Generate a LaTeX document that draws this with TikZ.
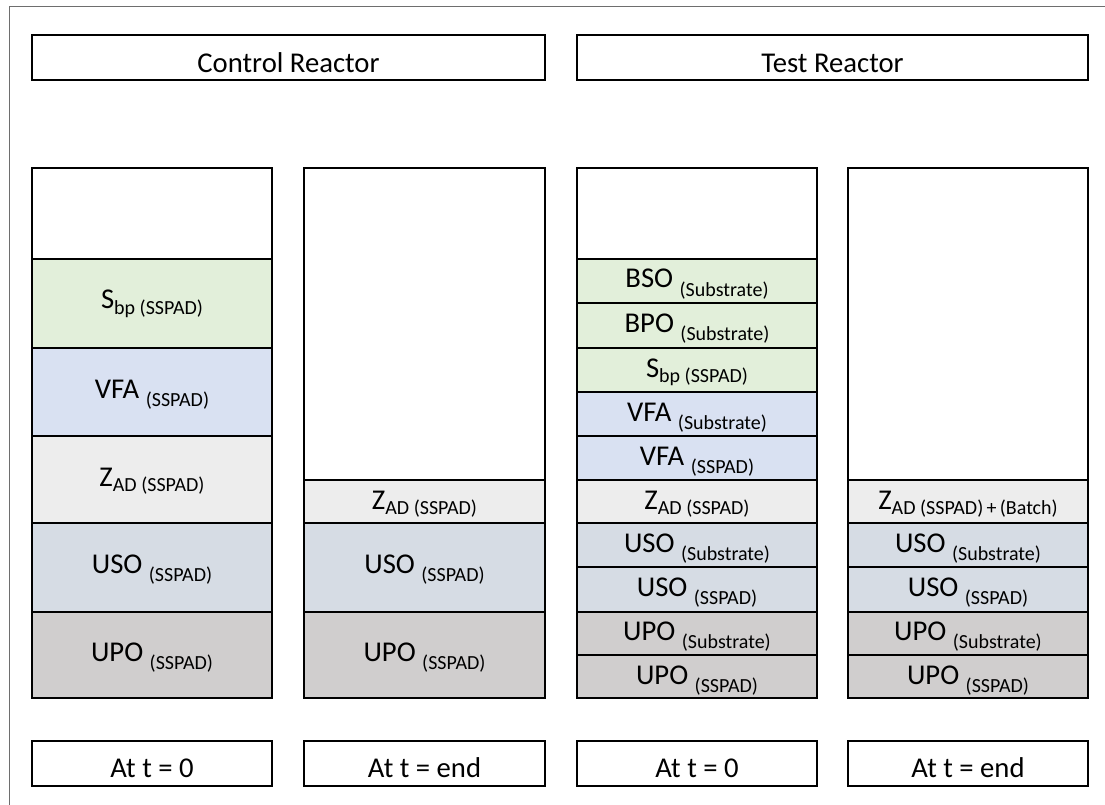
\documentclass[tikz,border=0pt]{standalone}
\usepackage{fontspec}
\setmainfont{Carlito}
\definecolor{cgreen}{HTML}{E2EFDA}
\definecolor{cviolet}{HTML}{D9E1F2}
\definecolor{cgrayl}{HTML}{EDEDED}
\definecolor{cbluegray}{HTML}{D6DCE4}
\definecolor{cgray}{HTML}{D0CECE}
\definecolor{framegray}{HTML}{6E6E6E}
\newcommand{\mainsz}{\fontsize{21.5}{25}\selectfont}
\newcommand{\subsz}{\fontsize{15}{18}\selectfont}
\newcommand{\lsub}[1]{\raisebox{-0.3em}{\subsz #1}}
\newcommand{\lsubz}[1]{\raisebox{-0.18em}{\subsz #1}}
\begin{document}
\begin{tikzpicture}[x=0.75pt,y=-0.75pt,
  thickbox/.style={draw=black, line width=2.2pt},
  thinline/.style={draw=black, line width=1.1pt},
  midline/.style={draw=black, line width=1.5pt},
  txt/.style={anchor=base, inner sep=0pt, font=\mainsz}]
\useasboundingbox (0,0) rectangle (1105,805);
\fill[white] (0,0) rectangle (1105,805);
\draw[framegray, line width=1.2pt] (9.5,805) -- (9.5,6.5) -- (1105,6.5);

% titles
\draw[thickbox] (32,35) rectangle (545,80);
\node[txt] (tctrl) at (288.5,73) {Control Reactor};
\draw[thickbox] (577,35) rectangle (1088,80);
\node[txt] (ttest) at (832.5,73) {Test Reactor};

% column 1
\fill[cgreen] (32,259) rectangle (272,348);
\fill[cviolet] (32,348) rectangle (272,436);
\fill[cgrayl] (32,436) rectangle (272,523);
\fill[cbluegray] (32,523) rectangle (272,612);
\fill[cgray] (32,612) rectangle (272,698);
\draw[midline] (32,259) -- (272,259);
\foreach \yy in {348,436,523,612} \draw[thinline] (32,\yy) -- (272,\yy);
\draw[thickbox] (32,168) rectangle (272,698);
\node[txt] (a1) at (152,309) {S\lsubz{bp (SSPAD)}};
\node[txt] (a2) at (152,398) {VFA \lsub{(SSPAD)}};
\node[txt] (a3) at (152,486) {Z\lsubz{AD (SSPAD)}};
\node[txt] (a4) at (152,573) {USO \lsub{(SSPAD)}};
\node[txt] (a5) at (152,661) {UPO \lsub{(SSPAD)}};

% column 2
\fill[cgrayl] (304,480) rectangle (545,523);
\fill[cbluegray] (304,523) rectangle (545,612);
\fill[cgray] (304,612) rectangle (545,698);
\draw[thickbox] (304,480) -- (545,480);
\foreach \yy in {523,612} \draw[thinline] (304,\yy) -- (545,\yy);
\draw[thickbox] (304,168) rectangle (545,698);
\node[txt] (b1) at (424.5,509) {Z\lsubz{AD (SSPAD)}};
\node[txt] (b2) at (424.5,573) {USO \lsub{(SSPAD)}};
\node[txt] (b3) at (424.5,661) {UPO \lsub{(SSPAD)}};

% column 3
\fill[cgreen] (577,259) rectangle (817,392);
\fill[cviolet] (577,392) rectangle (817,480);
\fill[cgrayl] (577,480) rectangle (817,523);
\fill[cbluegray] (577,523) rectangle (817,612);
\fill[cgray] (577,612) rectangle (817,698);
\draw[midline] (577,259) -- (817,259);
\foreach \yy in {303,348,392,436,480,523,567,612,655} \draw[thinline] (577,\yy) -- (817,\yy);
\draw[thickbox] (577,168) rectangle (817,698);
\node[txt] (c1) at (697,288) {BSO \lsub{(Substrate)}};
\node[txt] (c2) at (697,332) {BPO \lsub{(Substrate)}};
\node[txt] (c3) at (697,377) {S\lsubz{bp (SSPAD)}};
\node[txt] (c4) at (697,421) {VFA \lsub{(Substrate)}};
\node[txt] (c5) at (697,465) {VFA \lsub{(SSPAD)}};
\node[txt] (c6) at (697,509) {Z\lsubz{AD (SSPAD)}};
\node[txt] (c7) at (697,552) {USO \lsub{(Substrate)}};
\node[txt] (c8) at (697,596) {USO \lsub{(SSPAD)}};
\node[txt] (c9) at (697,640) {UPO \lsub{(Substrate)}};
\node[txt] (c10) at (697,684) {UPO \lsub{(SSPAD)}};

% column 4
\fill[cgrayl] (848,480) rectangle (1088,523);
\fill[cbluegray] (848,523) rectangle (1088,612);
\fill[cgray] (848,612) rectangle (1088,698);
\draw[thickbox] (848,480) -- (1088,480);
\foreach \yy in {523,567,612,655} \draw[thinline] (848,\yy) -- (1088,\yy);
\draw[thickbox] (848,168) rectangle (1088,698);
\node[txt] (d1) at (968,509) {Z\lsubz{AD (SSPAD)\,+\,(Batch)}};
\node[txt] (d2) at (968,552) {USO \lsub{(Substrate)}};
\node[txt] (d3) at (968,596) {USO \lsub{(SSPAD)}};
\node[txt] (d4) at (968,640) {UPO \lsub{(Substrate)}};
\node[txt] (d5) at (968,684) {UPO \lsub{(SSPAD)}};

% bottom labels
\draw[thickbox] (32,741) rectangle (272,786);
\node[txt] (e1) at (152,777) {At t = 0};
\draw[thickbox] (304,741) rectangle (545,786);
\node[txt] (e2) at (424.5,777) {At t = end};
\draw[thickbox] (577,741) rectangle (817,786);
\node[txt] (e3) at (697,777) {At t = 0};
\draw[thickbox] (848,741) rectangle (1088,786);
\node[txt] (e4) at (968,777) {At t = end};
\end{tikzpicture}
\end{document}
